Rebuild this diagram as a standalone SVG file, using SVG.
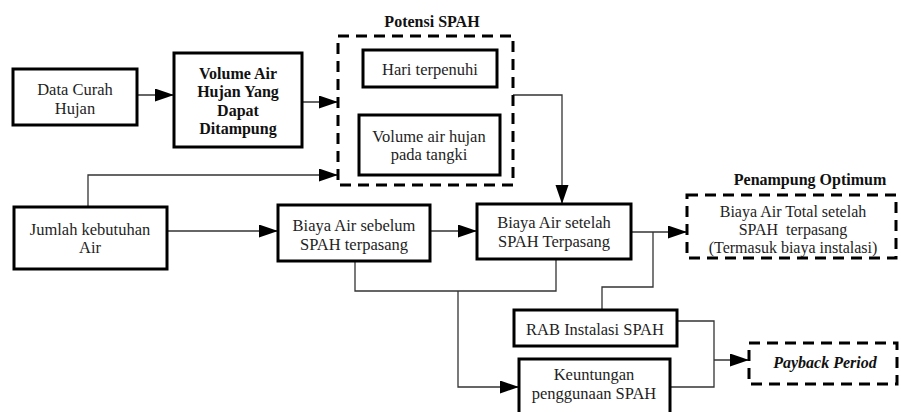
<svg xmlns="http://www.w3.org/2000/svg" width="901" height="412" viewBox="0 0 901 412">
<defs>
<marker id="arr" markerUnits="userSpaceOnUse" markerWidth="20" markerHeight="14" refX="19" refY="6.5" orient="auto">
<path d="M0,0 L19,6.5 L0,13 z" fill="#000"/>
</marker>
<style>
.box{fill:#fff;stroke:#000;stroke-width:3}
.dbox{fill:none;stroke:#000;stroke-width:3;stroke-dasharray:11 7}
.t{font-family:"Liberation Serif","Times New Roman",serif;font-size:16.5px;fill:#1e1e1e;text-anchor:middle}
.s{font-family:"Liberation Serif","Times New Roman",serif;font-size:16px;fill:#1e1e1e;text-anchor:middle}
.b{font-family:"Liberation Serif","Times New Roman",serif;font-size:16px;font-weight:bold;fill:#111;text-anchor:middle}
.bi{font-family:"Liberation Serif","Times New Roman",serif;font-size:16px;font-weight:bold;font-style:italic;fill:#111;text-anchor:middle}
.c{fill:none;stroke:#333;stroke-width:1.3}
</style>
</defs>
<rect width="901" height="412" fill="#fff"/>
<g id="connectors">
<path class="c" d="M137,95 L174,95" marker-end="url(#arr)"/>
<path class="c" d="M302,102 L338,102" marker-end="url(#arr)"/>
<path class="c" d="M88,207 L88,175 L338,175" marker-end="url(#arr)"/>
<path class="c" d="M167,231 L278,231" marker-end="url(#arr)"/>
<path class="c" d="M430,231 L477,231" marker-end="url(#arr)"/>
<path class="c" d="M513,95 L562,95 L562,204" marker-end="url(#arr)"/>
<path class="c" d="M631,232 L687,232" marker-end="url(#arr)"/>
<path class="c" d="M653,232 L653,287 L602,287 L602,310"/>
<path class="c" d="M355,261 L355,291 L556,291 L556,259"/>
<path class="c" d="M458,291 L458,387 L519,387" marker-end="url(#arr)"/>
<path class="c" d="M677,321 L714,321 L714,387 L670,387"/>
<path class="c" d="M714,360 L749,360" marker-end="url(#arr)"/>
</g>
<g id="data-curah-hujan">
<rect class="box" x="13" y="69" width="124" height="56"/>
<text class="t" x="75" y="95">Data Curah</text>
<text class="t" x="75" y="114">Hujan</text>
</g>
<g id="volume-air-hujan">
<rect class="box" x="174" y="53" width="128" height="94"/>
<text class="b" x="238" y="79">Volume Air</text>
<text class="b" x="238" y="97">Hujan Yang</text>
<text class="b" x="238" y="116">Dapat</text>
<text class="b" x="238" y="134">Ditampung</text>
</g>
<g id="potensi-spah">
<text class="b" x="432" y="27">Potensi SPAH</text>
<rect class="dbox" x="338" y="36" width="175" height="149"/>
</g>
<g id="hari-terpenuhi">
<rect class="box" x="363" y="50" width="134" height="37"/>
<text class="t" x="430" y="75">Hari terpenuhi</text>
</g>
<g id="volume-air-tangki">
<rect class="box" x="359" y="115" width="141" height="60"/>
<text class="t" x="429" y="142">Volume air hujan</text>
<text class="t" x="429" y="160">pada tangki</text>
</g>
<g id="jumlah-kebutuhan-air">
<rect class="box" x="14" y="207" width="153" height="62"/>
<text class="t" x="90" y="235">Jumlah kebutuhan</text>
<text class="t" x="90" y="253">Air</text>
</g>
<g id="biaya-sebelum">
<rect class="box" x="278" y="205" width="152" height="56"/>
<text class="t" x="354" y="231">Biaya Air sebelum</text>
<text class="t" x="354" y="250">SPAH terpasang</text>
</g>
<g id="biaya-setelah">
<rect class="box" x="477" y="204" width="154" height="55"/>
<text class="t" x="554" y="228">Biaya Air setelah</text>
<text class="t" x="554" y="247">SPAH Terpasang</text>
</g>
<g id="penampung-optimum">
<text class="b" x="810" y="185">Penampung Optimum</text>
<rect class="dbox" x="687" y="195" width="209" height="63"/>
<text class="s" x="793" y="217">Biaya Air Total setelah</text>
<text class="s" x="793" y="235" xml:space="preserve">SPAH  terpasang</text>
<text class="s" x="793" y="253">(Termasuk biaya instalasi)</text>
</g>
<g id="rab-instalasi">
<rect class="box" x="514" y="310" width="163" height="36"/>
<text class="t" x="595" y="335">RAB Instalasi SPAH</text>
</g>
<g id="keuntungan">
<rect class="box" x="519" y="359" width="151" height="62"/>
<text class="t" x="594" y="380">Keuntungan</text>
<text class="t" x="594" y="399">penggunaan SPAH</text>
</g>
<g id="payback-period">
<rect class="dbox" x="749" y="343" width="148" height="41"/>
<text class="bi" x="825" y="368">Payback Period</text>
</g>
</svg>
